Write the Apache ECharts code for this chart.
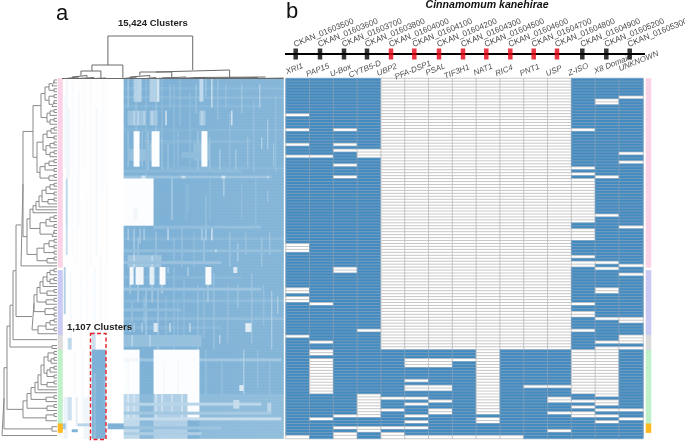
<!DOCTYPE html>
<html><head><meta charset="utf-8">
<style>html,body{margin:0;padding:0;background:#fff}#c{width:685px;height:442px}</style>
<script src="https://cdn.jsdelivr.net/npm/echarts@6/dist/echarts.min.js"></script>
</head><body><div id="c"></div>
<script>
// ---------- DATA ----------
const geneIds=['CKAN_01603500','CKAN_01603600','CKAN_01603700','CKAN_01603800','CKAN_01604000','CKAN_01604100','CKAN_01604200','CKAN_01604300','CKAN_01604500','CKAN_01604600','CKAN_01604700','CKAN_01604800','CKAN_01604900','CKAN_01605200','CKAN_01605300'];
const geneNames=['XRI1','PAP15','U-Box','CYTB5-D','UBP2','PFA-DSP1','PSAL','TIF3H1','NAT1','RIC4','PNT1','USP','Z-ISO','X8 Domain','UNKNOWN'];
const genePositions=[10.7,35,59,82,106,129.3,154,178,201.3,225.3,248.7,272,297.3,321.3,344.7];
const geneIsRed=[0,0,0,0,1,1,1,1,1,1,1,1,0,0,0];
const rowCount=122;
// absent rows per gene: a number is one row, a pair is an inclusive range
const absXRI1=[12,17,22,26,[56,58],[71,72],[74,75],87,121];
const absPAP15=[26,76,89,[92,93],[95,106],115];
const absUBox=[17,22,24,29,33,[64,65],114,118,[120,121]];
const absCYTB5=[[24,26],85,[107,114],[118,119]];
const absUBP2=[[0,91],108,112,118,[120,121]];
const absPFA=[[0,91],[95,97],102,[104,105],108,110,114,116,118,121];
const absPSAL=[[0,91],[95,97],[104,105],109,[112,113],121];
const absTIF=[[0,91],95,121];
const absNAT1=[[0,113],[115,116],121];
const absRIC4=[[0,91],121];
const absPNT1=[[0,91],104];
const absUSP=[[0,91],104,[108,109],113,119];
const absZISO=[17,30,32,[34,48],[51,54],60,[62,63],76,[79,80],85,[92,106],109,111,[113,114]];
const absX8=[[7,8],33,46,62,64,[71,72],81,89,[91,107],[109,110],112,114,116];
const absUNK=[6,25,28,50,63,66,[81,82],[87,89],91,112,115];
const absentRows=[absXRI1,absPAP15,absUBox,absCYTB5,absUBP2,absPFA,absPSAL,absTIF,absNAT1,absRIC4,absPNT1,absUSP,absZISO,absX8,absUNK];
// clade bands: name, first row, last row
const bandNames=['pink','purple','grey','green','orange'];
const bandStart=[0,65,87,92,117];
const bandEnd=[63,86,91,116,119];
// panel a: cluster columns x 122 rows, painted in order [col0,col1,row0,row1,level]
const clusterCols=111;
const blocksBase=[[0,31,0,122,.008],[31,111,0,122,1],[23,31,0,122,0]];
const blocksFaint=[[2,3,0,34,.1],[5,6,0,60,.05],[8,9,4,50,.07],[11,12,0,30,.05],[14,15,0,64,.05],[17,18,10,60,.08],[20,21,0,40,.05],[22,23,36,64,.05],
 [1,2,6,30,.07],[3,4,10,34,.12],[7,8,30,64,.04],[12,13,40,88,.05],[16,17,64,92,.08],[19,20,60,92,.06],[4,5,66,92,.07],[9,10,66,92,.05],[13,14,92,108,.04],[6,7,92,108,.05],[10,11,92,116,.07],
 [2,3,34,50,.5],[2,3,50,60,.42],[1,2,64,80,.6],[3,5,88,92,.5],[15,17,86,92,.4],[3,5,108,116,.4],[7,8,108,118,.2],[1,3,108,122,.15],[11,14,108,122,.12],[0,2,117,119,.7],[5,8,119,120,1],[8,14,117,118,.55],[23,31,117,119,1]];
const blocksRedBox=[[15,22,92,122,1],[21,22,100,112,.9],[16,17,100,122,.85]];
const blocksUpper=[[33,34,0,10,.6],[36,38,0,8,.6],[38,40,0,8,.55],[44,46,0,8,.6],[46,49,0,8,.6],[48,49,0,8,.1],[69,71,0,8,.5],[75,76,0,10,.2],
 [33,42,11,16,.75],[36,37,11,16,.4],[38,39,11,16,.4],[41,42,11,16,.45],[44,48,11,16,.7],[45,46,11,16,.4],[52,53,11,16,.05],[85,86,11,16,.1],[69,72,11,16,.7],[70,71,11,16,.45],
 [33,42,24,28,.82],[44,48,22,28,.82],[66,74,22,28,.85],[60,70,25,27,.88],
 [36,39,18,30,.03],[45,49,18,30,.03],[70,73,18,30,.03],
 [31,90,31,32,.9],[31,105,33,34,.78],[40,42,33,34,.35],[60,62,33,34,.4],[80,82,33,34,.35],[103,104,33,34,.35],
 [31,46,34,50,.03],[31,44,48,50,.04],[36,38,44,48,.12],[46,100,50,51,.85],[55,56,34,48,.55],[81,82,34,40,.5],[103,104,38,42,.7],[72,73,40,50,.75],[63,64,36,46,.85]];
const blocksMiddle=[[33,34,51,55,.5],[36,37,51,60,.5],[39,40,51,56,.55],[41,42,51,55,.5],[53,54,51,55,.25],[75,76,51,55,.05],[70,71,51,55,.5],[72,73,51,55,.5],
 [31,110,58,59,.85],[77,78,58,59,.2],[33,50,60,64,.75],[36,37,60,64,.3],[45,46,60,64,.35],[31,80,62,63,.8],
 [34,36,64,70,.1],[37,41,64,70,.1],[44,46,64,70,.2],[46,47,64,70,.4],[49,52,64,70,.05],[72,75,64,70,.05],[86,88,64,66,.3],[53,54,64,66,.5],[63,64,64,67,.5],
 [34,35,70,73,.5],[38,39,70,76,.55],[45,46,70,76,.55],[50,51,70,73,.4],[73,74,70,76,.55],[31,100,71,72,.78],[31,60,78,79,.85],
 [34,35,83,86,.5],[36,37,83,86,.6],[40,41,83,86,.5],[46,48,83,86,.3],[54,55,83,86,.2],[64,65,83,86,.25],[92,95,83,86,.25],
 [31,70,87,91,.82],[79,80,87,90,.4],[35,36,87,91,.4],[44,45,87,91,.45]];
const blocksGreen=[[31,39,92,107,.02],[46,69,92,107,.02],[31,39,95,96,.1],[69,110,95,96,.75],[39,46,95,96,.75],[91,92,92,107,.55],[89,91,104,106,.3],[33,34,96,107,.12],[51,52,96,107,.1],[58,59,96,107,.12],
 [31,39,107,122,.5],[46,63,107,122,.62],[63,69,107,115,.03],[69,111,107,122,.9],[39,46,107,122,.9],[50,51,107,114,.2],[55,56,107,114,.3],[33,34,107,116,.15],[36,37,107,116,.25],[47,48,107,116,.2],[60,61,107,115,.2],
 [31,100,110,111,.55],[86,89,109,112,.45],[31,110,115,116,.45],[31,105,113,114,.72],[31,80,118,119,.78],[31,70,120,121,.65],[103,105,110,113,.55]];
const blocksTexture=[[31,111,3,4,.94],[31,111,6,7,.92],[31,100,9,10,.93],[31,111,17,18,.95],[41,95,21,22,.92],[50,111,30,31,.94],[31,111,54,55,.92],[31,90,67,68,.94],[31,111,75,76,.9],[31,111,81,82,.88],[31,80,84,85,.92],
 [42,43,0,34,.8],[50,51,0,20,.8],[56,57,2,30,.82],[59,60,0,16,.78],[64,65,5,30,.82],[78,79,0,14,.75],[84,85,12,30,.8],[90,91,2,12,.7],[96,97,8,32,.8],[103,104,14,24,.6],[107,108,6,32,.82],
 [60,61,50,64,.75],[66,67,52,64,.8],[84,85,52,64,.7],[92,93,52,60,.75],[100,101,54,64,.7],
 [56,57,64,92,.78],[61,62,68,90,.8],[68,69,70,92,.75],[76,77,66,92,.75],[83,84,70,90,.8],[95,96,66,90,.72],[105,106,72,92,.6],[42,43,72,88,.6],[48,49,72,92,.62],
 [72,73,92,107,.78],[80,81,96,107,.8],[98,99,92,105,.8],[104,105,96,107,.82],[75,76,107,120,.65],[94,95,107,122,.7],[108,109,110,122,.6],
 [33,34,18,30,.7],[40,41,18,30,.72],[43,44,18,32,.65],[50,51,20,32,.72],[53,54,22,32,.7],[58,59,18,30,.78],[68,69,18,32,.65],[74,75,20,32,.7],[79,80,24,32,.6],[87,88,24,32,.65],[93,94,20,30,.72],[100,101,20,24,.5],[106,107,22,30,.7],
 [37,38,8,18,.72],[47,48,8,18,.7],[54,55,2,10,.75],[67,68,2,12,.72],[72,73,0,6,.72],[82,83,2,10,.78],[99,100,2,10,.55],
 [74,75,34,48,.85],[90,91,36,48,.85],[37,38,34,36,.1],[62,63,36,48,.88],[97,98,34,50,.85],
 [38,39,54,64,.6],[47,48,52,64,.65],[56,57,54,62,.75],[71,72,54,62,.65],[88,89,56,62,.55],[104,105,52,60,.7],
 [35,36,76,83,.7],[41,42,74,83,.72],[52,53,74,88,.78],[58,59,76,88,.8],[71,72,72,88,.8],[88,89,70,78,.7],[101,102,70,84,.8],[108,109,74,80,.6]];
// left tree: [distance, child, child]; 0 is one-row leaf, -k a leaf covering k rows
const c2=[54,0,0];
const cladeA1=[41,[45,[49,[52,c2,0],c2],[49,c2,[52,c2,0]]],[47,[50,c2,0],[50,c2,0]]];
const cladeA2=[37,[43,[47,[51,c2,0],c2],[46,[50,c2,0],[50,c2,0]]],[40,[45,[49,c2,0],c2],[49,c2,0]]];
const cladeB=[27,[30,[33,[36,[39,[42,[46,[50,c2,0],c2],[48,c2,0]],0],0],0],[40,[46,[50,c2,0],c2],[52,c2,0]]],[37,[44,[49,c2,c2],c2],[47,c2,0]]];
const cladePurple=[32,[34,[37,[40,[43,[47,[50,c2,0],[50,c2,0]],0],[47,c2,0]],[46,c2,0]],[45,c2,c2]],[38,[46,[50,c2,0],c2],0]];
const cladeGreen=[23,[27,[31,[35,[38,[41,[44,[48,c2,[51,c2,0]],[47,[50,c2,0],c2]],[47,c2,0]],0],0],[46,c2,0]],[47,c2,0]],[46,c2,-2]];
const leftTree=[2,[4,[7,[10,[13,[16,[21,[23,[33,cladeA1,cladeA2],cladeB],0],cladePurple],-3],[52,-1,-1]],cladeGreen],[52,-2,-1]],-2];
// top tree links: [col left, col right, height, left foot, right foot]
const topLinks=[[23,65.5,42.5,13.5,8.5],[15,30.5,13.5,7.5,0],[9.5,19.5,7.5,3,0],[5,12.5,3,1.5,1],[47,84,8.5,6.5,1.5],[39,55,6.5,3,1.5],
 [34,44,3,1.5,1],[31,37,1.5,0,0],[42,47,1,0,0],[50,62,1.5,.5,.5],[47,54,.5,0,0],[57,66,.8,0,0],[66,102,1.5,1,1],[62,72,1,0,.4],[72,88,.6,0,0],[84,98,1,.4,0],[96,111,.4,0,0],
 [2,8,1.5,0,0],[8,16,1,0,0],[16,22,.5,0,0],[0,111,0,0,0]];
// annotations
const panelA='a', panelB='b', speciesTitle='Cinnamomum kanehirae', clusterAll='15,424 Clusters', clusterCore='1,107 Clusters';

// ---------- LAYOUT / STYLE ----------
const TOP=78.5, H=360, SUB=2;
const bandColors=['#fbd2e5','#c9c9f3','#dcdcdc','#bff0c9','#ffb81f'];
const nameNudge=[1,0,-1,0,-2,0,-1,-4,-1,-4,-2,-2,-1,11,14];
const nameLift=[0,-1,-1,0,0,-1,0,-1,0,0,0,-1,0,1,3];
const FONT='"Liberation Sans",Arial,sans-serif';

// ---------- BUILD ----------
const expand=l=>{const s=new Set();l.forEach(v=>{if(Array.isArray(v)){for(let i=v[0];i<=v[1];i++)s.add(i)}else s.add(v)});return s};
const heatB=[];
absentRows.forEach((l,g)=>{const s=expand(l);for(let r=0;r<rowCount;r++){const on=!s.has(r);
  heatB.push({value:[g,r,on?1:0],itemStyle:{borderColor:on?'#7d9fbc':'#bcbcbc',borderWidth:.8}})}});

const nCols=clusterCols*SUB;
const M=[];for(let r=0;r<rowCount;r++)M.push(new Array(nCols).fill(0));
const paint=b=>{const k0=b[0]*SUB,k1=(b[1]-b[0]===1&&b[4]<1&&b[3]-b[2]<60&&b[0]>30)?k0+1:b[1]*SUB;
  for(let r=b[2];r<b[3]&&r<rowCount;r++)for(let k=k0;k<k1&&k<nCols;k++)M[r][k]=b[4];};
[blocksBase,blocksFaint,blocksTexture,blocksUpper,blocksMiddle,blocksGreen,blocksRedBox].forEach(list=>list.forEach(paint));
const heatA=[];M.forEach((row,r)=>row.forEach((v,k)=>heatA.push([k,r,v])));

const bandData=[];bandNames.forEach((n,i)=>{for(let r=bandStart[i];r<=bandEnd[i];r++)bandData.push({value:[0,r,1],itemStyle:{color:bandColors[i]}})});

// dendrogram paths
let cursor=0;const treePts=[];
function walk(n){
  if(typeof n==='number'){const w=n===0?1:-n;const y=cursor+w/2;cursor+=w;return {y,leaf:true}}
  const a=walk(n[1]),b=walk(n[2]);const d=n[0];
  const ax=a.leaf?57:a.d,bx=b.leaf?57:b.d;
  treePts.push([ax,a.y],[d,a.y],[d,b.y],[bx,b.y],null);
  return {y:(a.y+b.y)/2,d,leaf:false};
}
walk(leftTree);
const leftTreeData=treePts.map(p=>p===null?['-','-']:p);
const topData=[];topLinks.forEach(l=>{topData.push([l[0],l[3]],[l[0],l[2]],[l[1],l[2]],[l[1],l[4]],['-','-'])});

const rowCats=[...Array(rowCount).keys()];
const colCats=[...Array(nCols).keys()];
const cat=(data,inv)=>({type:'category',data,inverse:!!inv,show:false,boundaryGap:true});
const grids=[
 {left:62,width:221.5,top:35,height:43.5},
 {left:0,width:58,top:TOP,height:H},
 {left:58,width:4.5,top:TOP,height:H},
 {left:62,width:221.5,top:TOP,height:H},
 {left:286,width:357,top:TOP,height:H},
 {left:646,width:5,top:TOP,height:H},
 {left:285,width:360,top:40,height:28}
];
const option={
 animation:false,backgroundColor:'#fff',
 grid:grids,
 xAxis:[
  {gridIndex:0,type:'value',min:0,max:clusterCols,show:false},
  {gridIndex:1,type:'value',min:0,max:58,show:false},
  {gridIndex:2,...cat(['band'])},
  {gridIndex:3,...cat(colCats)},
  {gridIndex:4,...cat(geneNames)},
  {gridIndex:5,...cat(['band'])},
  {gridIndex:6,type:'value',min:0,max:360,show:false}
 ],
 yAxis:[
  {gridIndex:0,type:'value',min:0,max:43.5,show:false},
  {gridIndex:1,type:'value',min:0,max:cursor,inverse:true,show:false},
  {gridIndex:2,...cat(rowCats,true)},
  {gridIndex:3,...cat(rowCats,true)},
  {gridIndex:4,...cat(rowCats,true)},
  {gridIndex:5,...cat(rowCats,true)},
  {gridIndex:6,type:'value',min:-1,max:1,show:false}
 ],
 visualMap:[
  {show:false,seriesIndex:2,dimension:2,min:0,max:1,inRange:{color:['#ffffff','#7fb2d6']}},
  {show:false,seriesIndex:3,dimension:2,min:0,max:1,inRange:{color:['#ffffff','#428bc1']}}
 ],
 series:[
  {type:'line',xAxisIndex:0,yAxisIndex:0,data:topData,showSymbol:false,connectNulls:false,silent:true,lineStyle:{color:'#6a6a6a',width:1},z:5},
  {type:'line',xAxisIndex:1,yAxisIndex:1,data:leftTreeData,showSymbol:false,connectNulls:false,silent:true,lineStyle:{color:'#8a8a8a',width:1}},
  {type:'heatmap',xAxisIndex:3,yAxisIndex:3,data:heatA,progressive:0,silent:true,itemStyle:{borderWidth:0}},
  {type:'heatmap',xAxisIndex:4,yAxisIndex:4,data:heatB,progressive:0,silent:true},
  {type:'heatmap',xAxisIndex:2,yAxisIndex:2,data:bandData,progressive:0,silent:true},
  {type:'heatmap',xAxisIndex:5,yAxisIndex:5,data:bandData,progressive:0,silent:true},
  {type:'line',xAxisIndex:6,yAxisIndex:6,data:[[0,0],[360,0]],showSymbol:false,silent:true,lineStyle:{color:'#000',width:2}},
  {type:'scatter',xAxisIndex:6,yAxisIndex:6,silent:true,symbol:'rect',symbolSize:[4.5,11],z:5,
   data:genePositions.map((p,i)=>({value:[p,0],name:geneIds[i],itemStyle:{color:geneIsRed[i]?'#e60012':'#000'},
     label:{show:true,formatter:geneIds[i],position:'top',align:'left',verticalAlign:'bottom',rotate:22,distance:0,fontFamily:FONT,fontSize:8.2,color:'#111'}}))},
  {type:'scatter',xAxisIndex:4,yAxisIndex:4,silent:true,symbolSize:0,z:6,clip:false,
   data:geneNames.map((n,i)=>({value:[i,0],label:{show:true,formatter:n,position:'inside',align:'center',verticalAlign:'middle',rotate:22,offset:[nameNudge[i],-11.5-nameLift[i]],fontFamily:FONT,fontStyle:'italic',fontSize:8,color:'#222'}}))}
 ],
 graphic:[
  {type:'text',left:56,top:3,style:{text:panelA,font:'22px '+FONT,fill:'#111'}},
  {type:'text',left:286,top:1,style:{text:panelB,font:'22px '+FONT,fill:'#111'}},
  {type:'text',left:425.5,top:0,style:{text:speciesTitle,font:'italic bold 10.6px '+FONT,fill:'#111'}},
  {type:'text',left:118,top:18,style:{text:clusterAll,font:'bold 9.5px '+FONT,fill:'#222'}},
  {type:'text',left:67,top:322,z:20,style:{text:clusterCore,font:'bold 9.6px '+FONT,fill:'#222'}},
  {type:'rect',z:20,shape:{x:90.5,y:333.5,width:15.5,height:106},style:{fill:'none',stroke:'#e8202a',lineWidth:1.4,lineDash:[4,2.5]}}
 ]
};
const chart=echarts.init(document.getElementById('c'),null,{renderer:'canvas',width:685,height:442});
chart.setOption(option);
</script></body></html>
